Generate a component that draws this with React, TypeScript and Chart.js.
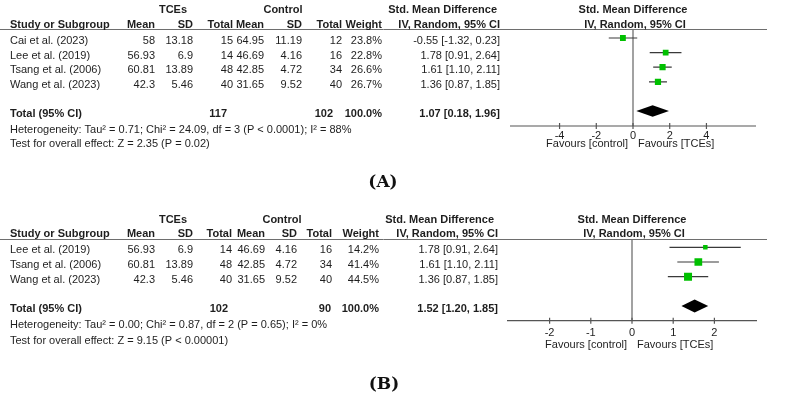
import React, { useEffect, useRef } from "react";
import { Chart, registerables } from "chart.js";

Chart.register(...registerables);

// ---------- Panel A: all four trials ----------
const studiesA = ["Cai et al. (2023)", "Lee et al. (2019)", "Tsang et al. (2006)", "Wang et al. (2023)"];
const tceMeanA = [58, 56.93, 60.81, 42.3];
const tceSdA = [13.18, 6.9, 13.89, 5.46];
const tceTotalA = [15, 14, 48, 40];
const ctlMeanA = [64.95, 46.69, 42.85, 31.65];
const ctlSdA = [11.19, 4.16, 4.72, 9.52];
const ctlTotalA = [12, 16, 34, 40];
const weightA = [23.8, 22.8, 26.6, 26.7];
const smdA = [-0.55, 1.78, 1.61, 1.36];
const lowerA = [-1.32, 0.91, 1.1, 0.87];
const upperA = [0.23, 2.64, 2.11, 1.85];
const pooledA = [1.07, 0.18, 1.96]; // estimate, lower, upper
const heterogeneityA = "Heterogeneity: Tau² = 0.71; Chi² = 24.09, df = 3 (P < 0.0001); I² = 88%";
const overallA = "Test for overall effect: Z = 2.35 (P = 0.02)";
const axisTicksA = [-4, -2, 0, 2, 4];

// ---------- Panel B: Cai et al. removed ----------
const studiesB = ["Lee et al. (2019)", "Tsang et al. (2006)", "Wang et al. (2023)"];
const tceMeanB = [56.93, 60.81, 42.3];
const tceSdB = [6.9, 13.89, 5.46];
const tceTotalB = [14, 48, 40];
const ctlMeanB = [46.69, 42.85, 31.65];
const ctlSdB = [4.16, 4.72, 9.52];
const ctlTotalB = [16, 34, 40];
const weightB = [14.2, 41.4, 44.5];
const smdB = [1.78, 1.61, 1.36];
const lowerB = [0.91, 1.1, 0.87];
const upperB = [2.64, 2.11, 1.85];
const pooledB = [1.52, 1.2, 1.85];
const heterogeneityB = "Heterogeneity: Tau² = 0.00; Chi² = 0.87, df = 2 (P = 0.65); I² = 0%";
const overallB = "Test for overall effect: Z = 9.15 (P < 0.00001)";
const axisTicksB = [-2, -1, 0, 1, 2];

const totalWeight = 100;

type Panel = {
  studies: string[];
  tceMean: number[]; tceSd: number[]; tceTotal: number[];
  ctlMean: number[]; ctlSd: number[]; ctlTotal: number[];
  weight: number[]; smd: number[]; lower: number[]; upper: number[];
  pooled: number[]; het: string; overall: string; ticks: number[];
};

const panelA: Panel = {
  studies: studiesA, tceMean: tceMeanA, tceSd: tceSdA, tceTotal: tceTotalA,
  ctlMean: ctlMeanA, ctlSd: ctlSdA, ctlTotal: ctlTotalA, weight: weightA,
  smd: smdA, lower: lowerA, upper: upperA, pooled: pooledA,
  het: heterogeneityA, overall: overallA, ticks: axisTicksA,
};
const panelB: Panel = {
  studies: studiesB, tceMean: tceMeanB, tceSd: tceSdB, tceTotal: tceTotalB,
  ctlMean: ctlMeanB, ctlSd: ctlSdB, ctlTotal: ctlTotalB, weight: weightB,
  smd: smdB, lower: lowerB, upper: upperB, pooled: pooledB,
  het: heterogeneityB, overall: overallB, ticks: axisTicksB,
};

// ---------- layout (page pixels) ----------
type Layout = {
  canvasTop: number; canvasHeight: number;
  plotLeft: number; plotRight: number; plotTop: number; plotBottom: number;
  xMin: number; xMax: number;
  row0: number; rowStep: number; totalRow: number;
  head1: number; head2: number; ruleRight: number;
  cols: { tMean: number; tSd: number; tN: number; cMean: number; cSd: number; cN: number; weight: number; ci: number };
  totalCols: { tN: number; cN: number; weight: number; ci: number };
  groupT: number; groupC: number; midHeadRight: number;
  hetY: number; testY: number; tickY: number; favY: number;
  tag: string; tagX: number; tagY: number; diamondHalf: number;
};

const layoutA: Layout = {
  canvasTop: 0, canvasHeight: 200,
  plotLeft: 510, plotRight: 756, plotTop: 29.5, plotBottom: 126,
  xMin: -6.7, xMax: 6.7,
  row0: 38, rowStep: 14.6, totalRow: 5,
  head1: 10, head2: 25, ruleRight: 767,
  cols: { tMean: 155, tSd: 193, tN: 233, cMean: 264, cSd: 302, cN: 342, weight: 382, ci: 500 },
  totalCols: { tN: 227, cN: 333, weight: 382, ci: 500 },
  groupT: 173, groupC: 283, midHeadRight: 497,
  hetY: 130, testY: 144, tickY: 136, favY: 144,
  tag: "(A)", tagX: 383, tagY: 183, diamondHalf: 5.7,
};

const layoutB: Layout = {
  canvasTop: 200, canvasHeight: 201,
  plotLeft: 507, plotRight: 757, plotTop: 239.5, plotBottom: 320.7,
  xMin: -3.034, xMax: 3.034,
  row0: 247.3, rowStep: 14.7, totalRow: 4,
  head1: 219.5, head2: 234, ruleRight: 767,
  cols: { tMean: 155, tSd: 193, tN: 232, cMean: 265, cSd: 297, cN: 332, weight: 379, ci: 498 },
  totalCols: { tN: 228, cN: 331, weight: 379, ci: 498 },
  groupT: 173, groupC: 282, midHeadRight: 494,
  hetY: 324.5, testY: 340.5, tickY: 332.7, favY: 345,
  tag: "(B)", tagX: 384, tagY: 385, diamondHalf: 6.5,
};

const SANS = '"Liberation Sans", Arial, Helvetica, sans-serif';
const TEXT = "#1e1e1e";
const GREEN = "#00c000";

const ciText = (e: number, l: number, u: number) => `${e.toFixed(2)} [${l.toFixed(2)}, ${u.toFixed(2)}]`;
const sum = (a: number[]) => a.reduce((s, v) => s + v, 0);

function forestPlugin(d: Panel, L: Layout) {
  const off = L.canvasTop;
  return {
    id: "forestTable",
    beforeDatasetsDraw(chart: any) {
      const { ctx, chartArea: a } = chart;
      const x = chart.scales.x;
      const x0 = x.getPixelForValue(0);
      const seg = (x1: number, y1: number, x2: number, y2: number) => {
        ctx.beginPath();
        ctx.moveTo(x1, y1);
        ctx.lineTo(x2, y2);
        ctx.stroke();
      };
      ctx.save();
      // header rule
      ctx.strokeStyle = "#6e6e6e";
      ctx.lineWidth = 1;
      seg(0, a.top, L.ruleRight, a.top);
      // line of no effect
      ctx.strokeStyle = "#707070";
      ctx.lineWidth = 1.3;
      seg(x0, a.top, x0, a.bottom);
      // x axis with crossing ticks
      ctx.strokeStyle = "#555";
      ctx.lineWidth = 1.2;
      seg(a.left, a.bottom, a.right, a.bottom);
      d.ticks.forEach((v) => {
        const px = x.getPixelForValue(v);
        seg(px, a.bottom - 3, px, a.bottom + 3);
      });
      ctx.restore();
    },
    afterDatasetsDraw(chart: any) {
      const { ctx } = chart;
      const x = chart.scales.x;
      const y = chart.scales.y;
      const ty = y.getPixelForValue(L.totalRow);
      const [e, l, u] = d.pooled;
      ctx.save();
      ctx.fillStyle = "#000";
      ctx.beginPath();
      ctx.moveTo(x.getPixelForValue(l), ty);
      ctx.lineTo(x.getPixelForValue(e), ty - L.diamondHalf);
      ctx.lineTo(x.getPixelForValue(u), ty);
      ctx.lineTo(x.getPixelForValue(e), ty + L.diamondHalf);
      ctx.closePath();
      ctx.fill();
      ctx.restore();
    },
    afterDraw(chart: any) {
      const { ctx } = chart;
      const x = chart.scales.x;
      const y = chart.scales.y;
      const x0 = x.getPixelForValue(0);
      const put = (t: string, px: number, py: number, align: CanvasTextAlign, bold = false) => {
        ctx.font = `${bold ? "bold " : ""}11px ${SANS}`;
        ctx.textAlign = align;
        ctx.fillText(t, px, py);
      };
      ctx.save();
      ctx.fillStyle = TEXT;
      ctx.textBaseline = "middle";

      // column headers
      const h1 = L.head1 - off;
      const h2 = L.head2 - off;
      put("TCEs", L.groupT, h1, "center", true);
      put("Control", L.groupC, h1, "center", true);
      put("Std. Mean Difference", L.midHeadRight, h1, "right", true);
      put("Std. Mean Difference", x0, h1, "center", true);
      put("Study or Subgroup", 10, h2, "left", true);
      put("Mean", L.cols.tMean, h2, "right", true);
      put("SD", L.cols.tSd, h2, "right", true);
      put("Total", L.cols.tN, h2, "right", true);
      put("Mean", L.cols.cMean, h2, "right", true);
      put("SD", L.cols.cSd, h2, "right", true);
      put("Total", L.cols.cN, h2, "right", true);
      put("Weight", L.cols.weight, h2, "right", true);
      put("IV, Random, 95% CI", L.cols.ci, h2, "right", true);
      put("IV, Random, 95% CI", x0 + 2, h2, "center", true);

      // study rows
      d.studies.forEach((s, i) => {
        const ry = y.getPixelForValue(i) + 3;
        put(s, 10, ry, "left");
        put(String(d.tceMean[i]), L.cols.tMean, ry, "right");
        put(String(d.tceSd[i]), L.cols.tSd, ry, "right");
        put(String(d.tceTotal[i]), L.cols.tN, ry, "right");
        put(String(d.ctlMean[i]), L.cols.cMean, ry, "right");
        put(String(d.ctlSd[i]), L.cols.cSd, ry, "right");
        put(String(d.ctlTotal[i]), L.cols.cN, ry, "right");
        put(`${d.weight[i].toFixed(1)}%`, L.cols.weight, ry, "right");
        put(ciText(d.smd[i], d.lower[i], d.upper[i]), L.cols.ci, ry, "right");
      });

      // pooled row
      const ty = y.getPixelForValue(L.totalRow) + 3;
      put("Total (95% CI)", 10, ty, "left", true);
      put(String(sum(d.tceTotal)), L.totalCols.tN, ty, "right", true);
      put(String(sum(d.ctlTotal)), L.totalCols.cN, ty, "right", true);
      put(`${totalWeight.toFixed(1)}%`, L.totalCols.weight, ty, "right", true);
      put(ciText(d.pooled[0], d.pooled[1], d.pooled[2]), L.totalCols.ci, ty, "right", true);

      put(d.het, 10, L.hetY - off, "left");
      put(d.overall, 10, L.testY - off, "left");

      // axis labels
      d.ticks.forEach((v) => put(String(v), x.getPixelForValue(v), L.tickY - off, "center"));
      put("Favours [control]", x0 - 5, L.favY - off, "right");
      put("Favours [TCEs]", x0 + 5, L.favY - off, "left");

      // panel tag
      ctx.font = `bold 17px "DejaVu Serif", "Liberation Serif", serif`;
      ctx.textAlign = "center";
      ctx.fillStyle = "#111";
      ctx.fillText(L.tag, L.tagX, L.tagY - off);
      ctx.restore();
    },
  };
}

function buildChart(canvas: HTMLCanvasElement, d: Panel, L: Layout) {
  const ciSets = d.studies.map((_, i) => ({
    type: "line" as const,
    data: [
      { x: d.lower[i], y: i },
      { x: d.upper[i], y: i },
    ],
    showLine: true,
    borderColor: "#3a3a3a",
    borderWidth: 1.2,
    pointRadius: 0,
    fill: false,
  }));
  const squares = {
    type: "scatter" as const,
    data: d.studies.map((_, i) => ({ x: d.smd[i], y: i })),
    pointStyle: "rect" as const,
    // square side grows with the square root of the study weight
    pointRadius: d.weight.map((w) => (1.2 * Math.sqrt(w)) / (2 * Math.SQRT1_2)),
    backgroundColor: GREEN,
    borderColor: GREEN,
    borderWidth: 0,
  };
  return new Chart(canvas, {
    type: "scatter",
    data: { datasets: [squares, ...ciSets] as any },
    options: {
      responsive: false,
      animation: false,
      events: [],
      layout: {
        padding: {
          left: L.plotLeft,
          right: 800 - L.plotRight,
          top: L.plotTop - L.canvasTop,
          bottom: L.canvasTop + L.canvasHeight - L.plotBottom,
        },
      },
      plugins: { legend: { display: false }, tooltip: { enabled: false } },
      scales: {
        x: { type: "linear", display: false, bounds: "data", min: L.xMin, max: L.xMax },
        y: {
          type: "linear",
          display: false,
          bounds: "data",
          reverse: true,
          min: (L.plotTop - L.row0) / L.rowStep,
          max: (L.plotBottom - L.row0) / L.rowStep,
        },
      },
    },
    plugins: [forestPlugin(d, L)],
  });
}

export default function App() {
  const refA = useRef<HTMLCanvasElement>(null);
  const refB = useRef<HTMLCanvasElement>(null);

  useEffect(() => {
    if (!refA.current || !refB.current) return;
    const a = buildChart(refA.current, panelA, layoutA);
    const b = buildChart(refB.current, panelB, layoutB);
    return () => {
      a.destroy();
      b.destroy();
    };
  }, []);

  return (
    <div style={{ position: "fixed", left: 0, top: 0, width: 800, height: 401, background: "#fff" }}>
      <canvas
        ref={refA}
        width={800}
        height={layoutA.canvasHeight}
        style={{ position: "absolute", left: 0, top: layoutA.canvasTop, width: 800, height: layoutA.canvasHeight }}
      />
      <canvas
        ref={refB}
        width={800}
        height={layoutB.canvasHeight}
        style={{ position: "absolute", left: 0, top: layoutB.canvasTop, width: 800, height: layoutB.canvasHeight }}
      />
    </div>
  );
}
